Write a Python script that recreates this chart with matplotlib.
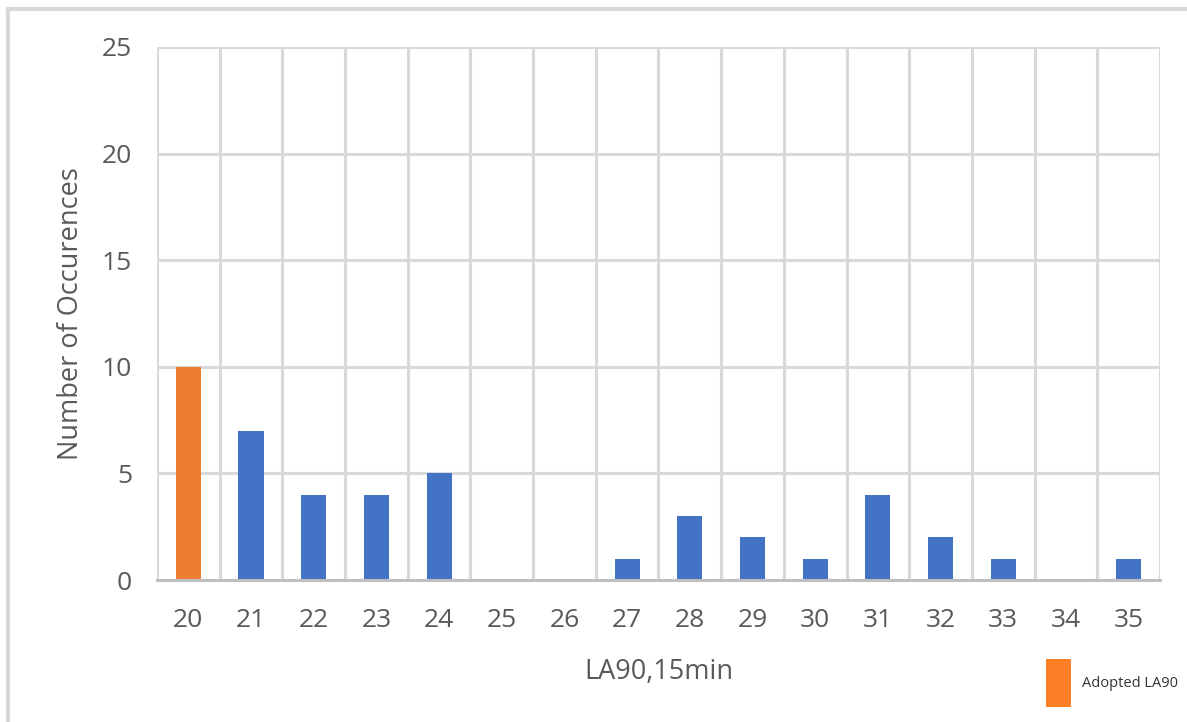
import matplotlib
matplotlib.use("Agg")
import matplotlib.pyplot as plt
from matplotlib.patches import Patch
from matplotlib.lines import Line2D
import numpy as np

# data
la90 = [20, 21, 22, 23, 24, 25, 26, 27, 28, 29, 30, 31, 32, 33, 34, 35]
occurrences = [10, 7, 4, 4, 5, 0, 0, 1, 3, 2, 1, 4, 2, 1, 0, 1]
adopted = 20

blue = "#4472C4"
orange = "#ED7D31"
grid_c = "#D9D9D9"
text_c = "#595959"

plt.rcParams['font.family'] = ['Open Sans', 'DejaVu Sans']

fig = plt.figure(figsize=(11.87, 7.22), dpi=100)
ax = fig.add_axes([157/1187, 1 - 580/722, 1003/1187, 533/722])

pos = np.arange(len(la90))
colors = [orange if v == adopted else blue for v in la90]
ax.bar(pos, occurrences, width=0.4, color=colors, zorder=3)

ax.set_xlim(-0.5, len(la90) - 0.5)
ax.set_ylim(0, 25)
ax.set_yticks(range(0, 26, 5))
ax.set_xticks(pos)
ax.set_xticklabels([str(v) for v in la90])

# category boundary gridlines + horizontal gridlines
for b in np.arange(-0.5, len(la90), 1.0):
    ax.axvline(b, color=grid_c, lw=2.2, zorder=1)
ax.yaxis.grid(True, color=grid_c, lw=2.2, zorder=1)
ax.set_axisbelow(True)

for s in ['top', 'right', 'left']:
    ax.spines[s].set_visible(False)
ax.spines['bottom'].set_color("#BFBFBF")
ax.spines['bottom'].set_linewidth(2.2)
ax.spines['bottom'].set_zorder(4)

ax.tick_params(axis='both', length=0, labelsize=19, colors=text_c)
ax.tick_params(axis='x', pad=20)
ax.tick_params(axis='y', pad=18)

ax.set_xlabel("LA90,15min", fontsize=19.5, color=text_c, labelpad=18)
ax.set_ylabel("Number of Occurences", fontsize=19.5, color=text_c, labelpad=12)

# legend (only the adopted series)
fig.legend(handles=[Patch(facecolor="#FF7F27", edgecolor='none', label="Adopted LA90")],
           loc='center left', bbox_to_anchor=(1033/1187, 1 - 683/722), frameon=False,
           fontsize=10.5, handlelength=1.7, handleheight=4.7, handletextpad=0.75,
           labelcolor="#333333")

# outer chart border (only top and left visible in the crop)
fig.add_artist(Line2D([8/1187, 1], [1 - 9/722, 1 - 9/722], color=grid_c, lw=3))
fig.add_artist(Line2D([8/1187, 8/1187], [0, 1 - 9/722], color=grid_c, lw=3))

fig.savefig("out.png", dpi=100)
